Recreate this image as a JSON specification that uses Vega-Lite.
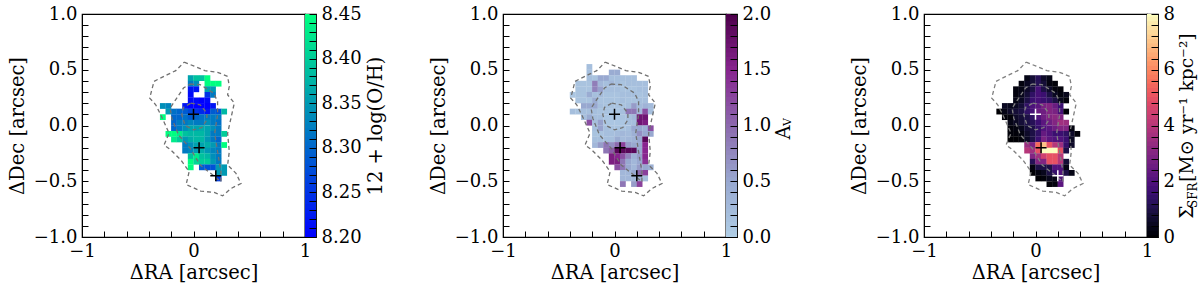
{"$schema":"https://vega.github.io/schema/vega-lite/v6.json","padding":{"left":6,"top":4,"right":0,"bottom":0},"bounds":"flush","spacing":421,"background":"white","resolve":{"scale":{"color":"independent"}},
"config":{"view":{"stroke":"#000","strokeWidth":1.2},"axis":{"labelFont":"DejaVu Serif","titleFont":"DejaVu Serif","labelFontSize":18,"titleFontSize":19.5,"titleFontWeight":"normal","labelColor":"#000","titleColor":"#000","grid":false,"domainColor":"#000","tickColor":"#000","tickSize":-6,"tickCount":100,"labelOverlap":false,"labelFlush":false,"labelBound":false}},
"datasets":{
"contours":[
{"c":"o","i":0,"x":-0.084,"y":0.568},{"c":"o","i":1,"x":0.006,"y":0.532},{"c":"o","i":2,"x":0.102,"y":0.492},{"c":"o","i":3,"x":0.216,"y":0.477},{"c":"o","i":4,"x":0.306,"y":0.441},{"c":"o","i":5,"x":0.321,"y":0.351},{"c":"o","i":6,"x":0.306,"y":0.276},{"c":"o","i":7,"x":0.366,"y":0.201},{"c":"o","i":8,"x":0.336,"y":0.066},{"c":"o","i":9,"x":0.306,"y":-0.069},{"c":"o","i":10,"x":0.321,"y":-0.234},{"c":"o","i":11,"x":0.306,"y":-0.354},{"c":"o","i":12,"x":0.381,"y":-0.429},{"c":"o","i":13,"x":0.426,"y":-0.52},{"c":"o","i":14,"x":0.336,"y":-0.565},{"c":"o","i":15,"x":0.261,"y":-0.631},{"c":"o","i":16,"x":0.186,"y":-0.6},{"c":"o","i":17,"x":0.066,"y":-0.589},{"c":"o","i":18,"x":-0.066,"y":-0.529},{"c":"o","i":19,"x":-0.039,"y":-0.414},{"c":"o","i":20,"x":-0.114,"y":-0.309},{"c":"o","i":21,"x":-0.204,"y":-0.219},{"c":"o","i":22,"x":-0.264,"y":-0.174},{"c":"o","i":23,"x":-0.219,"y":-0.069},{"c":"o","i":24,"x":-0.294,"y":0.096},{"c":"o","i":25,"x":-0.339,"y":0.186},{"c":"o","i":26,"x":-0.393,"y":0.246},{"c":"o","i":27,"x":-0.354,"y":0.396},{"c":"o","i":28,"x":-0.234,"y":0.456},{"c":"o","i":29,"x":-0.159,"y":0.492},{"c":"o","i":30,"x":-0.084,"y":0.568},
{"c":"m","i":0,"x":-0.03,"y":0.372},{"c":"m","i":1,"x":0.06,"y":0.366},{"c":"m","i":2,"x":0.18,"y":0.291},{"c":"m","i":3,"x":0.216,"y":0.216},{"c":"m","i":4,"x":0.216,"y":0.096},{"c":"m","i":5,"x":0.19,"y":-0.069},{"c":"m","i":6,"x":0.216,"y":-0.234},{"c":"m","i":7,"x":0.246,"y":-0.414},{"c":"m","i":8,"x":0.246,"y":-0.505},{"c":"m","i":9,"x":0.18,"y":-0.45},{"c":"m","i":10,"x":0.06,"y":-0.354},{"c":"m","i":11,"x":-0.03,"y":-0.204},{"c":"m","i":12,"x":-0.135,"y":-0.084},{"c":"m","i":13,"x":-0.195,"y":0.066},{"c":"m","i":14,"x":-0.21,"y":0.156},{"c":"m","i":15,"x":-0.15,"y":0.246},{"c":"m","i":16,"x":-0.09,"y":0.336},{"c":"m","i":17,"x":-0.03,"y":0.372},
{"c":"n","i":0,"x":-0.024,"y":0.2},{"c":"n","i":1,"x":0.06,"y":0.186},{"c":"n","i":2,"x":0.12,"y":0.111},{"c":"n","i":3,"x":0.12,"y":0.051},{"c":"n","i":4,"x":0.075,"y":-0.018},{"c":"n","i":5,"x":0,"y":-0.039},{"c":"n","i":6,"x":-0.075,"y":0},{"c":"n","i":7,"x":-0.105,"y":0.096},{"c":"n","i":8,"x":-0.09,"y":0.162},{"c":"n","i":9,"x":-0.024,"y":0.2}],
"stars":[{"x":0,"y":0.1,"s":"a"},{"x":0.05,"y":-0.2,"s":"b"},{"x":0.2,"y":-0.45,"s":"c"}],
"oh":[
{"y":0.425,"x":-0.025,"v":8.36},{"y":0.425,"x":0.025,"v":8.39},{"y":0.425,"x":0.075,"v":8.39},{"y":0.425,"x":0.125,"v":8.45},
{"y":0.375,"x":-0.025,"v":8.32},{"y":0.375,"x":0.025,"v":8.34},{"y":0.375,"x":0.125,"v":8.45},{"y":0.375,"x":0.175,"v":8.45},{"y":0.375,"x":0.225,"v":8.45},
{"y":0.325,"x":-0.025,"v":8.22},{"y":0.325,"x":0.025,"v":8.22},{"y":0.325,"x":0.125,"v":8.36},{"y":0.325,"x":0.175,"v":8.35},
{"y":0.275,"x":-0.025,"v":8.21},{"y":0.275,"x":0.125,"v":8.25},{"y":0.275,"x":0.175,"v":8.32},
{"y":0.225,"x":-0.025,"v":8.21},{"y":0.225,"x":0.025,"v":8.21},{"y":0.225,"x":0.075,"v":8.2},{"y":0.225,"x":0.125,"v":8.21},
{"y":0.175,"x":-0.275,"v":8.34},{"y":0.175,"x":-0.225,"v":8.33},{"y":0.175,"x":-0.075,"v":8.22},{"y":0.175,"x":-0.025,"v":8.2},{"y":0.175,"x":0.025,"v":8.2},{"y":0.175,"x":0.075,"v":8.2},{"y":0.175,"x":0.125,"v":8.2},{"y":0.175,"x":0.175,"v":8.22},
{"y":0.125,"x":-0.225,"v":8.35},{"y":0.125,"x":-0.175,"v":8.31},{"y":0.125,"x":-0.125,"v":8.3},{"y":0.125,"x":-0.075,"v":8.29},{"y":0.125,"x":-0.025,"v":8.27},{"y":0.125,"x":0.025,"v":8.25},{"y":0.125,"x":0.075,"v":8.24},{"y":0.125,"x":0.125,"v":8.22},{"y":0.125,"x":0.175,"v":8.29},{"y":0.125,"x":0.225,"v":8.28},{"y":0.125,"x":0.275,"v":8.38},
{"y":0.075,"x":-0.275,"v":8.45},{"y":0.075,"x":-0.175,"v":8.3},{"y":0.075,"x":-0.125,"v":8.3},{"y":0.075,"x":-0.075,"v":8.31},{"y":0.075,"x":-0.025,"v":8.29},{"y":0.075,"x":0.025,"v":8.3},{"y":0.075,"x":0.075,"v":8.31},{"y":0.075,"x":0.125,"v":8.32},{"y":0.075,"x":0.175,"v":8.32},{"y":0.075,"x":0.225,"v":8.32},
{"y":0.025,"x":-0.175,"v":8.3},{"y":0.025,"x":-0.125,"v":8.32},{"y":0.025,"x":-0.075,"v":8.32},{"y":0.025,"x":-0.025,"v":8.33},{"y":0.025,"x":0.025,"v":8.32},{"y":0.025,"x":0.075,"v":8.32},{"y":0.025,"x":0.125,"v":8.34},{"y":0.025,"x":0.175,"v":8.32},{"y":0.025,"x":0.225,"v":8.31},
{"y":-0.025,"x":-0.175,"v":8.3},{"y":-0.025,"x":-0.125,"v":8.32},{"y":-0.025,"x":-0.075,"v":8.34},{"y":-0.025,"x":-0.025,"v":8.36},{"y":-0.025,"x":0.025,"v":8.36},{"y":-0.025,"x":0.075,"v":8.37},{"y":-0.025,"x":0.125,"v":8.36},{"y":-0.025,"x":0.175,"v":8.34},{"y":-0.025,"x":0.225,"v":8.32},
{"y":-0.075,"x":-0.225,"v":8.45},{"y":-0.075,"x":-0.175,"v":8.45},{"y":-0.075,"x":-0.125,"v":8.43},{"y":-0.075,"x":-0.075,"v":8.39},{"y":-0.075,"x":-0.025,"v":8.38},{"y":-0.075,"x":0.025,"v":8.38},{"y":-0.075,"x":0.075,"v":8.38},{"y":-0.075,"x":0.125,"v":8.36},{"y":-0.075,"x":0.175,"v":8.32},{"y":-0.075,"x":0.225,"v":8.32},{"y":-0.075,"x":0.275,"v":8.4},
{"y":-0.125,"x":-0.175,"v":8.43},{"y":-0.125,"x":-0.125,"v":8.4},{"y":-0.125,"x":-0.075,"v":8.35},{"y":-0.125,"x":-0.025,"v":8.37},{"y":-0.125,"x":0.025,"v":8.38},{"y":-0.125,"x":0.075,"v":8.38},{"y":-0.125,"x":0.125,"v":8.35},{"y":-0.125,"x":0.175,"v":8.32},{"y":-0.125,"x":0.225,"v":8.3},
{"y":-0.175,"x":-0.075,"v":8.32},{"y":-0.175,"x":-0.025,"v":8.34},{"y":-0.175,"x":0.025,"v":8.36},{"y":-0.175,"x":0.075,"v":8.36},{"y":-0.175,"x":0.125,"v":8.37},{"y":-0.175,"x":0.175,"v":8.35},{"y":-0.175,"x":0.225,"v":8.32},{"y":-0.175,"x":0.275,"v":8.45},
{"y":-0.225,"x":-0.075,"v":8.32},{"y":-0.225,"x":-0.025,"v":8.33},{"y":-0.225,"x":0.025,"v":8.35},{"y":-0.225,"x":0.075,"v":8.37},{"y":-0.225,"x":0.125,"v":8.35},{"y":-0.225,"x":0.175,"v":8.33},{"y":-0.225,"x":0.225,"v":8.32},
{"y":-0.275,"x":-0.025,"v":8.39},{"y":-0.275,"x":0.025,"v":8.43},{"y":-0.275,"x":0.075,"v":8.39},{"y":-0.275,"x":0.125,"v":8.38},{"y":-0.275,"x":0.175,"v":8.34},{"y":-0.275,"x":0.225,"v":8.32},
{"y":-0.325,"x":-0.025,"v":8.45},{"y":-0.325,"x":0.025,"v":8.41},{"y":-0.325,"x":0.075,"v":8.4},{"y":-0.325,"x":0.125,"v":8.4},{"y":-0.325,"x":0.175,"v":8.35},{"y":-0.325,"x":0.225,"v":8.32},
{"y":-0.375,"x":-0.025,"v":8.45},{"y":-0.375,"x":0.075,"v":8.29},{"y":-0.375,"x":0.125,"v":8.28},{"y":-0.375,"x":0.175,"v":8.28},{"y":-0.375,"x":0.225,"v":8.35},{"y":-0.375,"x":0.275,"v":8.35},
{"y":-0.425,"x":0.225,"v":8.35},{"y":-0.425,"x":0.275,"v":8.35},
{"y":-0.475,"x":0.225,"v":8.26}],
"av":[
{"y":0.525,"x":-0.225,"v":0.2},
{"y":0.475,"x":-0.225,"v":0.2},{"y":0.475,"x":-0.025,"v":0.45},{"y":0.475,"x":0.025,"v":0.45},
{"y":0.425,"x":-0.225,"v":0.2},{"y":0.425,"x":-0.175,"v":0.15},{"y":0.425,"x":-0.125,"v":0.5},{"y":0.425,"x":-0.075,"v":0.5},{"y":0.425,"x":-0.025,"v":0.2},{"y":0.425,"x":0.025,"v":0.2},{"y":0.425,"x":0.075,"v":0.2},{"y":0.425,"x":0.125,"v":0.2},{"y":0.425,"x":0.175,"v":0.2},
{"y":0.375,"x":-0.325,"v":0.15},{"y":0.375,"x":-0.275,"v":0.15},{"y":0.375,"x":-0.225,"v":0.15},{"y":0.375,"x":-0.175,"v":0.85},{"y":0.375,"x":-0.125,"v":0.3},{"y":0.375,"x":-0.075,"v":0.2},{"y":0.375,"x":-0.025,"v":0.3},{"y":0.375,"x":0.025,"v":0.2},{"y":0.375,"x":0.075,"v":0.15},{"y":0.375,"x":0.125,"v":0.2},{"y":0.375,"x":0.175,"v":0.2},{"y":0.375,"x":0.225,"v":0.2},{"y":0.375,"x":0.275,"v":0.2},
{"y":0.325,"x":-0.325,"v":0.15},{"y":0.325,"x":-0.275,"v":0.15},{"y":0.325,"x":-0.225,"v":0.15},{"y":0.325,"x":-0.175,"v":0.8},{"y":0.325,"x":-0.125,"v":0.55},{"y":0.325,"x":-0.075,"v":0.2},{"y":0.325,"x":-0.025,"v":0.2},{"y":0.325,"x":0.025,"v":0.2},{"y":0.325,"x":0.075,"v":0.15},{"y":0.325,"x":0.125,"v":0.15},{"y":0.325,"x":0.175,"v":0.15},{"y":0.325,"x":0.225,"v":0.2},{"y":0.325,"x":0.275,"v":0.2},
{"y":0.275,"x":-0.375,"v":0.1},{"y":0.275,"x":-0.325,"v":0.15},{"y":0.275,"x":-0.275,"v":0.15},{"y":0.275,"x":-0.225,"v":0.45},{"y":0.275,"x":-0.175,"v":0.2},{"y":0.275,"x":-0.125,"v":0.25},{"y":0.275,"x":-0.075,"v":0.15},{"y":0.275,"x":-0.025,"v":0.15},{"y":0.275,"x":0.025,"v":0.15},{"y":0.275,"x":0.075,"v":0.2},{"y":0.275,"x":0.125,"v":0.2},{"y":0.275,"x":0.175,"v":0.2},{"y":0.275,"x":0.225,"v":0.15},{"y":0.275,"x":0.275,"v":0.2},
{"y":0.225,"x":-0.325,"v":0.15},{"y":0.225,"x":-0.275,"v":0.15},{"y":0.225,"x":-0.225,"v":0.15},{"y":0.225,"x":-0.175,"v":0.45},{"y":0.225,"x":-0.125,"v":0.15},{"y":0.225,"x":-0.075,"v":0.15},{"y":0.225,"x":-0.025,"v":0.15},{"y":0.225,"x":0.025,"v":0.15},{"y":0.225,"x":0.075,"v":0.2},{"y":0.225,"x":0.125,"v":0.15},{"y":0.225,"x":0.175,"v":0.15},{"y":0.225,"x":0.225,"v":0.2},{"y":0.225,"x":0.275,"v":0.2},
{"y":0.175,"x":-0.275,"v":0.5},{"y":0.175,"x":-0.225,"v":0.5},{"y":0.175,"x":-0.175,"v":0.5},{"y":0.175,"x":-0.125,"v":0.2},{"y":0.175,"x":-0.075,"v":0.15},{"y":0.175,"x":-0.025,"v":0.15},{"y":0.175,"x":0.025,"v":0.15},{"y":0.175,"x":0.075,"v":0.15},{"y":0.175,"x":0.125,"v":0.2},{"y":0.175,"x":0.175,"v":0.6},{"y":0.175,"x":0.225,"v":0.25},{"y":0.175,"x":0.275,"v":0.35},{"y":0.175,"x":0.325,"v":0.25},
{"y":0.125,"x":-0.375,"v":0.2},{"y":0.125,"x":-0.325,"v":0.15},{"y":0.125,"x":-0.275,"v":0.2},{"y":0.125,"x":-0.225,"v":0.2},{"y":0.125,"x":-0.175,"v":0.2},{"y":0.125,"x":-0.125,"v":0.15},{"y":0.125,"x":-0.075,"v":0.15},{"y":0.125,"x":-0.025,"v":0.1},{"y":0.125,"x":0.025,"v":0.1},{"y":0.125,"x":0.075,"v":0.2},{"y":0.125,"x":0.125,"v":0.9},{"y":0.125,"x":0.175,"v":0.9},{"y":0.125,"x":0.225,"v":0.3},{"y":0.125,"x":0.275,"v":1.2},{"y":0.125,"x":0.325,"v":0.2},
{"y":0.075,"x":-0.275,"v":0.2},{"y":0.075,"x":-0.225,"v":0.45},{"y":0.075,"x":-0.175,"v":0.2},{"y":0.075,"x":-0.125,"v":0.2},{"y":0.075,"x":-0.075,"v":0.1},{"y":0.075,"x":-0.025,"v":0.1},{"y":0.075,"x":0.025,"v":0.1},{"y":0.075,"x":0.075,"v":0.15},{"y":0.075,"x":0.125,"v":0.2},{"y":0.075,"x":0.175,"v":0.3},{"y":0.075,"x":0.225,"v":1.7},{"y":0.075,"x":0.275,"v":1.7},
{"y":0.025,"x":-0.225,"v":1.2},{"y":0.025,"x":-0.175,"v":0.2},{"y":0.025,"x":-0.125,"v":0.55},{"y":0.025,"x":-0.075,"v":0.1},{"y":0.025,"x":-0.025,"v":0.1},{"y":0.025,"x":0.025,"v":0.1},{"y":0.025,"x":0.075,"v":0.1},{"y":0.025,"x":0.125,"v":0.2},{"y":0.025,"x":0.175,"v":0.2},{"y":0.025,"x":0.225,"v":1.7},{"y":0.025,"x":0.275,"v":1.6},
{"y":-0.025,"x":-0.175,"v":0.2},{"y":-0.025,"x":-0.125,"v":0.55},{"y":-0.025,"x":-0.075,"v":0.2},{"y":-0.025,"x":-0.025,"v":0.15},{"y":-0.025,"x":0.025,"v":0.15},{"y":-0.025,"x":0.075,"v":0.15},{"y":-0.025,"x":0.125,"v":0.2},{"y":-0.025,"x":0.175,"v":0.5},{"y":-0.025,"x":0.225,"v":0.5},{"y":-0.025,"x":0.275,"v":0.4},{"y":-0.025,"x":0.325,"v":1.2},
{"y":-0.075,"x":-0.175,"v":0.15},{"y":-0.075,"x":-0.125,"v":0.15},{"y":-0.075,"x":-0.075,"v":0.2},{"y":-0.075,"x":-0.025,"v":0.2},{"y":-0.075,"x":0.025,"v":0.25},{"y":-0.075,"x":0.075,"v":0.3},{"y":-0.075,"x":0.125,"v":0.25},{"y":-0.075,"x":0.175,"v":0.4},{"y":-0.075,"x":0.225,"v":0.7},{"y":-0.075,"x":0.275,"v":0.5},{"y":-0.075,"x":0.325,"v":0.5},
{"y":-0.125,"x":-0.175,"v":0.2},{"y":-0.125,"x":-0.125,"v":0.2},{"y":-0.125,"x":-0.075,"v":0.2},{"y":-0.125,"x":-0.025,"v":0.2},{"y":-0.125,"x":0.025,"v":0.45},{"y":-0.125,"x":0.075,"v":0.25},{"y":-0.125,"x":0.125,"v":0.3},{"y":-0.125,"x":0.175,"v":0.35},{"y":-0.125,"x":0.225,"v":0.5},{"y":-0.125,"x":0.275,"v":1.9},
{"y":-0.175,"x":-0.175,"v":0.3},{"y":-0.175,"x":-0.125,"v":0.6},{"y":-0.175,"x":-0.075,"v":0.9},{"y":-0.175,"x":-0.025,"v":0.7},{"y":-0.175,"x":0.025,"v":1},{"y":-0.175,"x":0.075,"v":1.3},{"y":-0.175,"x":0.125,"v":0.6},{"y":-0.175,"x":0.175,"v":0.5},{"y":-0.175,"x":0.225,"v":0.5},{"y":-0.175,"x":0.275,"v":1.5},
{"y":-0.225,"x":-0.075,"v":0.9},{"y":-0.225,"x":-0.025,"v":1.1},{"y":-0.225,"x":0.025,"v":1.9},{"y":-0.225,"x":0.075,"v":1.9},{"y":-0.225,"x":0.125,"v":1.9},{"y":-0.225,"x":0.175,"v":1.9},{"y":-0.225,"x":0.225,"v":0.5},{"y":-0.225,"x":0.275,"v":1.5},
{"y":-0.275,"x":-0.025,"v":1.6},{"y":-0.275,"x":0.025,"v":1.5},{"y":-0.275,"x":0.075,"v":1.2},{"y":-0.275,"x":0.125,"v":0.8},{"y":-0.275,"x":0.175,"v":0.4},{"y":-0.275,"x":0.225,"v":0.6},{"y":-0.275,"x":0.275,"v":1.5},
{"y":-0.325,"x":-0.025,"v":1.6},{"y":-0.325,"x":0.025,"v":1.6},{"y":-0.325,"x":0.075,"v":0.9},{"y":-0.325,"x":0.125,"v":0.5},{"y":-0.325,"x":0.175,"v":0.3},{"y":-0.325,"x":0.225,"v":0.5},{"y":-0.325,"x":0.275,"v":1.4},
{"y":-0.375,"x":0.025,"v":1.2},{"y":-0.375,"x":0.075,"v":0.9},{"y":-0.375,"x":0.125,"v":0.5},{"y":-0.375,"x":0.175,"v":0.3},{"y":-0.375,"x":0.225,"v":0.6},{"y":-0.375,"x":0.275,"v":0.5},{"y":-0.375,"x":0.325,"v":0.4},
{"y":-0.425,"x":0.075,"v":0.3},{"y":-0.425,"x":0.125,"v":0.3},{"y":-0.425,"x":0.175,"v":0.5},{"y":-0.425,"x":0.225,"v":1},{"y":-0.425,"x":0.275,"v":1.3},
{"y":-0.475,"x":0.075,"v":0.3},{"y":-0.475,"x":0.125,"v":0.3},{"y":-0.475,"x":0.175,"v":0.3},{"y":-0.475,"x":0.225,"v":0.4},{"y":-0.475,"x":0.275,"v":0.2},
{"y":-0.525,"x":0.075,"v":0.9},{"y":-0.525,"x":0.175,"v":0.6},{"y":-0.525,"x":0.225,"v":1.3}],
"sfr":[
{"y":0.425,"x":-0.075,"v":0.3},{"y":0.425,"x":-0.025,"v":0.8},{"y":0.425,"x":0.025,"v":1.2},{"y":0.425,"x":0.075,"v":0.6},{"y":0.425,"x":0.125,"v":0.3},
{"y":0.375,"x":-0.125,"v":0.2},{"y":0.375,"x":-0.075,"v":0.5},{"y":0.375,"x":-0.025,"v":0.8},{"y":0.375,"x":0.025,"v":1.2},{"y":0.375,"x":0.075,"v":0.8},{"y":0.375,"x":0.125,"v":0.2},{"y":0.375,"x":0.175,"v":0.1},
{"y":0.325,"x":-0.175,"v":0.2},{"y":0.325,"x":-0.125,"v":0.3},{"y":0.325,"x":-0.075,"v":0.6},{"y":0.325,"x":-0.025,"v":1},{"y":0.325,"x":0.025,"v":1.8},{"y":0.325,"x":0.075,"v":1},{"y":0.325,"x":0.125,"v":0.6},{"y":0.325,"x":0.175,"v":0.2},{"y":0.325,"x":0.225,"v":0.1},
{"y":0.275,"x":-0.175,"v":0.2},{"y":0.275,"x":-0.125,"v":0.4},{"y":0.275,"x":-0.075,"v":0.8},{"y":0.275,"x":-0.025,"v":1.4},{"y":0.275,"x":0.025,"v":1.8},{"y":0.275,"x":0.075,"v":1.6},{"y":0.275,"x":0.125,"v":1},{"y":0.275,"x":0.175,"v":0.5},{"y":0.275,"x":0.225,"v":0.2},{"y":0.275,"x":0.275,"v":0.4},
{"y":0.225,"x":-0.175,"v":0.3},{"y":0.225,"x":-0.125,"v":0.5},{"y":0.225,"x":-0.075,"v":1},{"y":0.225,"x":-0.025,"v":1.6},{"y":0.225,"x":0.025,"v":1.8},{"y":0.225,"x":0.075,"v":1.6},{"y":0.225,"x":0.125,"v":1.4},{"y":0.225,"x":0.175,"v":1},{"y":0.225,"x":0.225,"v":0.4},{"y":0.225,"x":0.275,"v":0.1},
{"y":0.175,"x":-0.275,"v":0.5},{"y":0.175,"x":-0.225,"v":0.4},{"y":0.175,"x":-0.175,"v":0.5},{"y":0.175,"x":-0.125,"v":0.8},{"y":0.175,"x":-0.075,"v":1.4},{"y":0.175,"x":-0.025,"v":1.9},{"y":0.175,"x":0.025,"v":2.2},{"y":0.175,"x":0.075,"v":2.8},{"y":0.175,"x":0.125,"v":3},{"y":0.175,"x":0.175,"v":2.5},{"y":0.175,"x":0.225,"v":1.6},
{"y":0.125,"x":-0.325,"v":0},{"y":0.125,"x":-0.275,"v":0.3},{"y":0.125,"x":-0.225,"v":0.6},{"y":0.125,"x":-0.175,"v":0.8},{"y":0.125,"x":-0.125,"v":1},{"y":0.125,"x":-0.075,"v":1.4},{"y":0.125,"x":-0.025,"v":1.8},{"y":0.125,"x":0.025,"v":2.5},{"y":0.125,"x":0.075,"v":2.6},{"y":0.125,"x":0.125,"v":3},{"y":0.125,"x":0.175,"v":2.8},{"y":0.125,"x":0.225,"v":1.8},{"y":0.125,"x":0.275,"v":0.05},
{"y":0.075,"x":-0.275,"v":0.1},{"y":0.075,"x":-0.225,"v":0.1},{"y":0.075,"x":-0.175,"v":0.6},{"y":0.075,"x":-0.125,"v":0.8},{"y":0.075,"x":-0.075,"v":1},{"y":0.075,"x":-0.025,"v":1.4},{"y":0.075,"x":0.025,"v":2},{"y":0.075,"x":0.075,"v":2.6},{"y":0.075,"x":0.125,"v":3},{"y":0.075,"x":0.175,"v":3.2},{"y":0.075,"x":0.225,"v":3},
{"y":0.025,"x":-0.225,"v":0.3},{"y":0.025,"x":-0.175,"v":0.5},{"y":0.025,"x":-0.125,"v":0.8},{"y":0.025,"x":-0.075,"v":1},{"y":0.025,"x":-0.025,"v":1.2},{"y":0.025,"x":0.025,"v":1.6},{"y":0.025,"x":0.075,"v":2.2},{"y":0.025,"x":0.125,"v":2.6},{"y":0.025,"x":0.175,"v":3},{"y":0.025,"x":0.225,"v":3.6},{"y":0.025,"x":0.275,"v":3.5},
{"y":-0.025,"x":-0.225,"v":0.1},{"y":-0.025,"x":-0.175,"v":0.2},{"y":-0.025,"x":-0.125,"v":0.4},{"y":-0.025,"x":-0.075,"v":0.8},{"y":-0.025,"x":-0.025,"v":1},{"y":-0.025,"x":0.025,"v":1.5},{"y":-0.025,"x":0.075,"v":2},{"y":-0.025,"x":0.125,"v":2.2},{"y":-0.025,"x":0.175,"v":2.6},{"y":-0.025,"x":0.225,"v":3},{"y":-0.025,"x":0.275,"v":3},{"y":-0.025,"x":0.325,"v":0.2},
{"y":-0.075,"x":-0.225,"v":0.1},{"y":-0.075,"x":-0.175,"v":0.1},{"y":-0.075,"x":-0.125,"v":0.2},{"y":-0.075,"x":-0.075,"v":0.6},{"y":-0.075,"x":-0.025,"v":1},{"y":-0.075,"x":0.025,"v":1.4},{"y":-0.075,"x":0.075,"v":2.4},{"y":-0.075,"x":0.125,"v":2},{"y":-0.075,"x":0.175,"v":1.6},{"y":-0.075,"x":0.225,"v":1.6},{"y":-0.075,"x":0.275,"v":1.4},{"y":-0.075,"x":0.325,"v":0.6},{"y":-0.075,"x":0.375,"v":0.1},
{"y":-0.125,"x":-0.225,"v":0},{"y":-0.125,"x":-0.175,"v":0},{"y":-0.125,"x":-0.125,"v":0.1},{"y":-0.125,"x":-0.075,"v":0.5},{"y":-0.125,"x":-0.025,"v":1},{"y":-0.125,"x":0.025,"v":1.6},{"y":-0.125,"x":0.075,"v":2.8},{"y":-0.125,"x":0.125,"v":2.2},{"y":-0.125,"x":0.175,"v":2},{"y":-0.125,"x":0.225,"v":2},{"y":-0.125,"x":0.275,"v":1.6},{"y":-0.125,"x":0.325,"v":0.5},
{"y":-0.175,"x":-0.075,"v":3.5},{"y":-0.175,"x":-0.025,"v":2.8},{"y":-0.175,"x":0.025,"v":5.5},{"y":-0.175,"x":0.075,"v":7},{"y":-0.175,"x":0.125,"v":5},{"y":-0.175,"x":0.175,"v":4},{"y":-0.175,"x":0.225,"v":3.5},{"y":-0.175,"x":0.275,"v":1.5},{"y":-0.175,"x":0.325,"v":0.6},
{"y":-0.225,"x":-0.075,"v":4},{"y":-0.225,"x":-0.025,"v":3.6},{"y":-0.225,"x":0.025,"v":5},{"y":-0.225,"x":0.075,"v":8},{"y":-0.225,"x":0.125,"v":8},{"y":-0.225,"x":0.175,"v":8},{"y":-0.225,"x":0.225,"v":5},{"y":-0.225,"x":0.275,"v":1},
{"y":-0.275,"x":-0.025,"v":3},{"y":-0.275,"x":0.025,"v":3.6},{"y":-0.275,"x":0.075,"v":4.5},{"y":-0.275,"x":0.125,"v":5},{"y":-0.275,"x":0.175,"v":5},{"y":-0.275,"x":0.225,"v":4},
{"y":-0.325,"x":-0.025,"v":1.2},{"y":-0.325,"x":0.025,"v":3},{"y":-0.325,"x":0.075,"v":3},{"y":-0.325,"x":0.125,"v":5},{"y":-0.325,"x":0.175,"v":5},{"y":-0.325,"x":0.225,"v":4},{"y":-0.325,"x":0.275,"v":0.8},
{"y":-0.375,"x":-0.025,"v":0.2},{"y":-0.375,"x":0.025,"v":1},{"y":-0.375,"x":0.075,"v":1},{"y":-0.375,"x":0.125,"v":1},{"y":-0.375,"x":0.175,"v":2},{"y":-0.375,"x":0.225,"v":2},{"y":-0.375,"x":0.275,"v":0.3},
{"y":-0.425,"x":-0.025,"v":0},{"y":-0.425,"x":0.025,"v":0.2},{"y":-0.425,"x":0.075,"v":0.4},{"y":-0.425,"x":0.125,"v":1},{"y":-0.425,"x":0.175,"v":1.5},{"y":-0.425,"x":0.225,"v":2},{"y":-0.425,"x":0.275,"v":1},{"y":-0.425,"x":0.325,"v":0.3},
{"y":-0.475,"x":0.025,"v":0},{"y":-0.475,"x":0.075,"v":0.1},{"y":-0.475,"x":0.125,"v":0.4},{"y":-0.475,"x":0.175,"v":0.3},{"y":-0.475,"x":0.225,"v":2},
{"y":-0.525,"x":0.125,"v":0.1},{"y":-0.525,"x":0.175,"v":0.2},{"y":-0.525,"x":0.225,"v":2.2}],
"cb1":[{"a":8.2},{"a":8.205},{"a":8.21},{"a":8.215},{"a":8.22},{"a":8.225},{"a":8.23},{"a":8.235},{"a":8.24},{"a":8.245},{"a":8.25},{"a":8.255},{"a":8.26},{"a":8.265},{"a":8.27},{"a":8.275},{"a":8.28},{"a":8.285},{"a":8.29},{"a":8.295},{"a":8.3},{"a":8.305},{"a":8.31},{"a":8.315},{"a":8.32},{"a":8.325},{"a":8.33},{"a":8.335},{"a":8.34},{"a":8.345},{"a":8.35},{"a":8.355},{"a":8.36},{"a":8.365},{"a":8.37},{"a":8.375},{"a":8.38},{"a":8.385},{"a":8.39},{"a":8.395},{"a":8.4},{"a":8.405},{"a":8.41},{"a":8.415},{"a":8.42},{"a":8.425},{"a":8.43},{"a":8.435},{"a":8.44},{"a":8.445},{"a":8.45}],
"cb2":[{"a":0},{"a":0.04},{"a":0.08},{"a":0.12},{"a":0.16},{"a":0.2},{"a":0.24},{"a":0.28},{"a":0.32},{"a":0.36},{"a":0.4},{"a":0.44},{"a":0.48},{"a":0.52},{"a":0.56},{"a":0.6},{"a":0.64},{"a":0.68},{"a":0.72},{"a":0.76},{"a":0.8},{"a":0.84},{"a":0.88},{"a":0.92},{"a":0.96},{"a":1},{"a":1.04},{"a":1.08},{"a":1.12},{"a":1.16},{"a":1.2},{"a":1.24},{"a":1.28},{"a":1.32},{"a":1.36},{"a":1.4},{"a":1.44},{"a":1.48},{"a":1.52},{"a":1.56},{"a":1.6},{"a":1.64},{"a":1.68},{"a":1.72},{"a":1.76},{"a":1.8},{"a":1.84},{"a":1.88},{"a":1.92},{"a":1.96},{"a":2}],
"cb3":[{"a":0},{"a":0.16},{"a":0.32},{"a":0.48},{"a":0.64},{"a":0.8},{"a":0.96},{"a":1.12},{"a":1.28},{"a":1.44},{"a":1.6},{"a":1.76},{"a":1.92},{"a":2.08},{"a":2.24},{"a":2.4},{"a":2.56},{"a":2.72},{"a":2.88},{"a":3.04},{"a":3.2},{"a":3.36},{"a":3.52},{"a":3.68},{"a":3.84},{"a":4},{"a":4.16},{"a":4.32},{"a":4.48},{"a":4.64},{"a":4.8},{"a":4.96},{"a":5.12},{"a":5.28},{"a":5.44},{"a":5.6},{"a":5.76},{"a":5.92},{"a":6.08},{"a":6.24},{"a":6.4},{"a":6.56},{"a":6.72},{"a":6.88},{"a":7.04},{"a":7.2},{"a":7.36},{"a":7.52},{"a":7.68},{"a":7.84},{"a":8}],
"subA":[{"a":1.03,"t":"V"}],"subS":[{"a":1.5,"t":"SFR"}]
},
"hconcat":[
{"spacing":0,"bounds":"flush","resolve":{"scale":{"color":"independent"}},"hconcat":[
{"width":223,"height":223,"layer":[
{"data":{"name":"oh"},"mark":{"type":"rect","width":5.8,"height":5.8},"encoding":{"x":{"field":"x","type":"quantitative","scale":{"domain":[-1,1],"nice":false,"zero":false},"axis":{"title":"ΔRA [arcsec]","titlePadding":3,"labelPadding":11,"values":[-1,-0.8,-0.6,-0.4,-0.2,0,0.2,0.4,0.6,0.8,1],"labelExpr":"abs(datum.value-round(datum.value))<0.01?replace(format(datum.value,'d'),'-','−'):''"}},"y":{"field":"y","type":"quantitative","scale":{"domain":[-1,1],"nice":false,"zero":false},"axis":{"title":"ΔDec [arcsec]","titlePadding":6,"labelPadding":11,"values":[-1,-0.9,-0.8,-0.7,-0.6,-0.5,-0.4,-0.3,-0.2,-0.1,0,0.1,0.2,0.3,0.4,0.5,0.6,0.7,0.8,0.9,1],"labelExpr":"abs(datum.value*2-round(datum.value*2))<0.01?replace(format(datum.value,'.1f'),'-','−'):''"}},"color":{"field":"v","type":"quantitative","legend":null,"scale":{"domain":[8.2,8.45],"range":["#0000ff","#00ff80"],"interpolate":"rgb"}}}},
{"data":{"name":"contours"},"mark":{"type":"line","stroke":"#707070","strokeWidth":1.3,"strokeDash":[4,3]},"encoding":{"x":{"field":"x","type":"quantitative"},"y":{"field":"y","type":"quantitative"},"detail":{"field":"c"},"order":{"field":"i"}}},
{"data":{"name":"stars"},"mark":{"type":"point","shape":"M-1,0L1,0M0,-1L0,1","stroke":"#000","strokeWidth":1.5,"size":121,"opacity":1},"encoding":{"x":{"field":"x","type":"quantitative"},"y":{"field":"y","type":"quantitative"}}}
]},
{"width":11,"height":223,"data":{"name":"cb1"},"mark":{"type":"rect","height":5.5,"clip":true},"encoding":{"y":{"field":"a","type":"quantitative","scale":{"domain":[8.2,8.45],"nice":false,"zero":false},"axis":{"orient":"right","zindex":1,"title":"12 + log(O/H)","titleAngle":270,"titlePadding":24,"labelPadding":12,"tickSize":-7,"domain":false,"values":[8.2,8.21,8.22,8.23,8.24,8.25,8.26,8.27,8.28,8.29,8.3,8.31,8.32,8.33,8.34,8.35,8.36,8.37,8.38,8.39,8.4,8.41,8.42,8.43,8.44,8.45],"labelExpr":"abs(datum.value*20-round(datum.value*20))<0.01?format(datum.value,'.2f'):''"}},"color":{"field":"a","type":"quantitative","legend":null,"scale":{"domain":[8.2,8.45],"range":["#0000ff","#00ff80"],"interpolate":"rgb"}}}}
]},
{"spacing":0,"bounds":"flush","resolve":{"scale":{"color":"independent"}},"hconcat":[
{"width":223,"height":223,"layer":[
{"data":{"name":"av"},"mark":{"type":"rect","width":5.8,"height":5.8},"encoding":{"x":{"field":"x","type":"quantitative","scale":{"domain":[-1,1],"nice":false,"zero":false},"axis":{"title":"ΔRA [arcsec]","titlePadding":3,"labelPadding":11,"values":[-1,-0.8,-0.6,-0.4,-0.2,0,0.2,0.4,0.6,0.8,1],"labelExpr":"abs(datum.value-round(datum.value))<0.01?replace(format(datum.value,'d'),'-','−'):''"}},"y":{"field":"y","type":"quantitative","scale":{"domain":[-1,1],"nice":false,"zero":false},"axis":{"title":"ΔDec [arcsec]","titlePadding":6,"labelPadding":11,"values":[-1,-0.9,-0.8,-0.7,-0.6,-0.5,-0.4,-0.3,-0.2,-0.1,0,0.1,0.2,0.3,0.4,0.5,0.6,0.7,0.8,0.9,1],"labelExpr":"abs(datum.value*2-round(datum.value*2))<0.01?replace(format(datum.value,'.1f'),'-','−'):''"}},"color":{"field":"v","type":"quantitative","legend":null,"scale":{"domain":[0,0.5,1,1.5,2],"range":["#b0cee6","#98a8d0","#8c6aae","#88258f","#4d004b"],"interpolate":"rgb"}}}},
{"data":{"name":"contours"},"mark":{"type":"line","stroke":"#707070","strokeWidth":1.3,"strokeDash":[4,3]},"encoding":{"x":{"field":"x","type":"quantitative"},"y":{"field":"y","type":"quantitative"},"detail":{"field":"c"},"order":{"field":"i"}}},
{"data":{"name":"stars"},"mark":{"type":"point","shape":"M-1,0L1,0M0,-1L0,1","stroke":"#000","strokeWidth":1.5,"size":121,"opacity":1},"encoding":{"x":{"field":"x","type":"quantitative"},"y":{"field":"y","type":"quantitative"}}}
]},
{"width":11,"height":223,"layer":[{"data":{"name":"cb2"},"mark":{"type":"rect","height":5.5,"clip":true},"encoding":{"y":{"field":"a","type":"quantitative","scale":{"domain":[0,2],"nice":false,"zero":false},"axis":{"orient":"right","zindex":1,"title":"A","titleY":118,"titleAngle":270,"titlePadding":23,"labelPadding":12,"tickSize":-7,"domain":false,"values":[0,0.1,0.2,0.3,0.4,0.5,0.6,0.7,0.8,0.9,1,1.1,1.2,1.3,1.4,1.5,1.6,1.7,1.8,1.9,2],"labelExpr":"abs(datum.value*2-round(datum.value*2))<0.01?format(datum.value,'.1f'):''"}},"color":{"field":"a","type":"quantitative","legend":null,"scale":{"domain":[0,0.5,1,1.5,2],"range":["#b0cee6","#98a8d0","#8c6aae","#88258f","#4d004b"],"interpolate":"rgb"}}}},
{"data":{"name":"subA"},"mark":{"type":"text","font":"DejaVu Serif","fontSize":11,"angle":270,"dy":56,"color":"#000"},"encoding":{"y":{"field":"a","type":"quantitative"},"text":{"field":"t"}}}
]}
]},
{"spacing":0,"bounds":"flush","resolve":{"scale":{"color":"independent"}},"hconcat":[
{"width":223,"height":223,"layer":[
{"data":{"name":"sfr"},"mark":{"type":"rect","width":5.8,"height":5.8},"encoding":{"x":{"field":"x","type":"quantitative","scale":{"domain":[-1,1],"nice":false,"zero":false},"axis":{"title":"ΔRA [arcsec]","titlePadding":3,"labelPadding":11,"values":[-1,-0.8,-0.6,-0.4,-0.2,0,0.2,0.4,0.6,0.8,1],"labelExpr":"abs(datum.value-round(datum.value))<0.01?replace(format(datum.value,'d'),'-','−'):''"}},"y":{"field":"y","type":"quantitative","scale":{"domain":[-1,1],"nice":false,"zero":false},"axis":{"title":"ΔDec [arcsec]","titlePadding":6,"labelPadding":11,"values":[-1,-0.9,-0.8,-0.7,-0.6,-0.5,-0.4,-0.3,-0.2,-0.1,0,0.1,0.2,0.3,0.4,0.5,0.6,0.7,0.8,0.9,1],"labelExpr":"abs(datum.value*2-round(datum.value*2))<0.01?replace(format(datum.value,'.1f'),'-','−'):''"}},"color":{"field":"v","type":"quantitative","legend":null,"scale":{"domain":[0,8],"scheme":"magma"}}}},
{"data":{"name":"contours"},"mark":{"type":"line","stroke":"#808080","strokeWidth":1.3,"strokeDash":[4,3]},"encoding":{"x":{"field":"x","type":"quantitative"},"y":{"field":"y","type":"quantitative"},"detail":{"field":"c"},"order":{"field":"i"}}},
{"data":{"name":"stars"},"transform":[{"filter":"datum.s!='b'"}],"mark":{"type":"point","shape":"M-1,0L1,0M0,-1L0,1","stroke":"#fff","strokeWidth":1.5,"size":121,"opacity":1},"encoding":{"x":{"field":"x","type":"quantitative"},"y":{"field":"y","type":"quantitative"}}},
{"data":{"name":"stars"},"transform":[{"filter":"datum.s=='b'"}],"mark":{"type":"point","shape":"M-1,0L1,0M0,-1L0,1","stroke":"#000","strokeWidth":1.5,"size":121,"opacity":1},"encoding":{"x":{"field":"x","type":"quantitative"},"y":{"field":"y","type":"quantitative"}}}
]},
{"width":11,"height":223,"layer":[{"data":{"name":"cb3"},"mark":{"type":"rect","height":5.5,"clip":true},"encoding":{"y":{"field":"a","type":"quantitative","scale":{"domain":[0,8],"nice":false,"zero":false},"axis":{"orient":"right","zindex":1,"title":"Σ\u00a0\u00a0\u00a0\u00a0[M⊙ yr⁻¹ kpc⁻²]","titleFontSize":18.6,"titleAngle":270,"titlePadding":22,"labelPadding":12,"tickSize":-7,"domain":false,"values":[0,0.4,0.8,1.2,1.6,2,2.4,2.8,3.2,3.6,4,4.4,4.8,5.2,5.6,6,6.4,6.8,7.2,7.6,8],"labelExpr":"abs(datum.value/2-round(datum.value/2))<0.01?format(datum.value,'d'):''"}},"color":{"field":"a","type":"quantitative","legend":null,"scale":{"domain":[0,8],"scheme":"magma"}}}},
{"data":{"name":"subS"},"mark":{"type":"text","font":"DejaVu Serif","fontSize":12,"angle":270,"dy":40,"color":"#000"},"encoding":{"y":{"field":"a","type":"quantitative"},"text":{"field":"t"}}}
]}
]}
]}
